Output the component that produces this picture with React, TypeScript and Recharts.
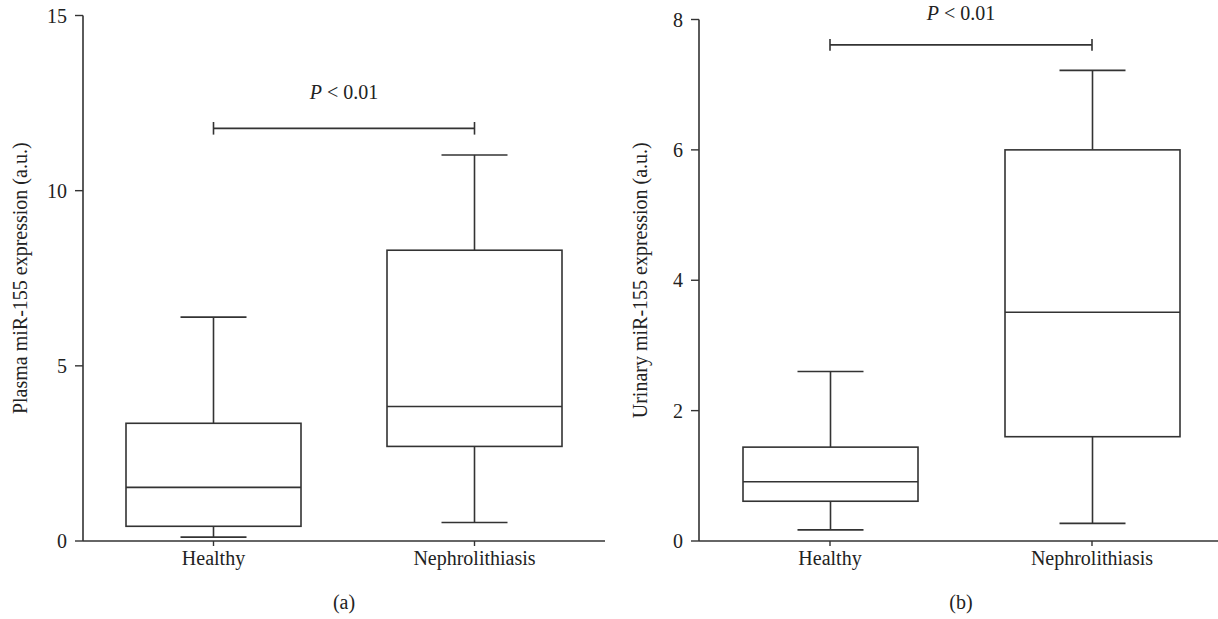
import { Bar, BarChart, ReferenceLine, XAxis, YAxis } from "recharts";

const groups = ["Healthy", "Nephrolithiasis"];

// (a) plasma miR-155
const plasmaMin = [0.11, 0.53];
const plasmaQ1 = [0.42, 2.7];
const plasmaMedian = [1.53, 3.84];
const plasmaQ3 = [3.36, 8.3];
const plasmaMax = [6.39, 11.02];
const plasmaTicks = [0, 5, 10, 15];
const plasmaBracket = 11.78;

// (b) urinary miR-155
const urinaryMin = [0.17, 0.27];
const urinaryQ1 = [0.61, 1.6];
const urinaryMedian = [0.91, 3.51];
const urinaryQ3 = [1.44, 6.0];
const urinaryMax = [2.6, 7.22];
const urinaryTicks = [0, 2, 4, 6, 8];
const urinaryBracket = 7.61;

const pValue = "< 0.01";

const FONT = "'Liberation Serif', 'Times New Roman', serif";
const FONT_SIZE = 20;
const INK = "#333";

type BoxRow = { name: string; range: [number, number]; q1: number; median: number; q3: number };

const buildRows = (mins: number[], q1s: number[], meds: number[], q3s: number[], maxs: number[]): BoxRow[] =>
  groups.map((name, i) => ({
    name,
    range: [mins[i], maxs[i]],
    q1: q1s[i],
    median: meds[i],
    q3: q3s[i],
  }));

const plasmaData = buildRows(plasmaMin, plasmaQ1, plasmaMedian, plasmaQ3, plasmaMax);
const urinaryData = buildRows(urinaryMin, urinaryQ1, urinaryMedian, urinaryQ3, urinaryMax);

// draws a whole box plot inside the bar that spans min..max
function BoxShape(props: any) {
  const { x, y, width, height, payload } = props;
  if (!payload) return null;
  const [lo, hi] = payload.range;
  const top = Math.min(y, y + height);
  const h = Math.abs(height);
  const toY = (v: number) => top + ((hi - v) / (hi - lo)) * h;
  const cx = x + width / 2;
  const cap = 33;
  const yMax = toY(hi);
  const yMin = toY(lo);
  const yQ1 = toY(payload.q1);
  const yQ3 = toY(payload.q3);
  const yMed = toY(payload.median);
  const line = { stroke: INK, strokeWidth: 1.6 };
  return (
    <g>
      <line x1={cx - cap} x2={cx + cap} y1={yMax} y2={yMax} {...line} />
      <line x1={cx} x2={cx} y1={yMax} y2={yQ3} {...line} />
      <rect x={x} y={yQ3} width={width} height={yQ1 - yQ3} fill="#fff" {...line} />
      <line x1={x} x2={x + width} y1={yMed} y2={yMed} {...line} />
      <line x1={cx} x2={cx} y1={yQ1} y2={yMin} {...line} />
      <line x1={cx - cap} x2={cx + cap} y1={yMin} y2={yMin} {...line} />
    </g>
  );
}

function PLabel({ viewBox, gap }: any) {
  if (!viewBox) return null;
  const cx = viewBox.x + viewBox.width / 2;
  return (
    <text x={cx} y={viewBox.y - gap} textAnchor="middle" fontFamily={FONT} fontSize={FONT_SIZE} fill="#222">
      <tspan fontStyle="italic">P</tspan> {pValue}
    </text>
  );
}

function BoxPanel({
  data,
  ticks,
  bracket,
  bracketTick,
  yLabel,
  caption,
  width,
  marginTop,
  marginRight,
  labelOffset,
  pGap,
}: {
  data: BoxRow[];
  ticks: number[];
  bracket: number;
  bracketTick: number;
  yLabel: string;
  caption: string;
  width: number;
  marginTop: number;
  marginRight: number;
  labelOffset: number;
  pGap: number;
}) {
  const tickStyle = { fill: "#222", fontSize: FONT_SIZE, fontFamily: FONT };
  const hi = ticks[ticks.length - 1];
  return (
    <BarChart
      width={width}
      height={619}
      data={data}
      margin={{ top: marginTop, right: marginRight, bottom: 8, left: 0 }}
      barSize={175}
    >
      <XAxis
        dataKey="name"
        height={70}
        tick={tickStyle}
        tickSize={5}
        tickMargin={5}
        axisLine={{ stroke: INK, strokeWidth: 1.6 }}
        tickLine={{ stroke: INK, strokeWidth: 1.4 }}
        label={{ value: caption, position: "insideBottom", offset: 2, style: { fill: "#222", fontSize: FONT_SIZE, fontFamily: FONT } }}
      />
      <YAxis
        type="number"
        domain={[0, hi]}
        ticks={ticks}
        width={83}
        tick={tickStyle}
        tickSize={8}
        tickMargin={8}
        axisLine={{ stroke: INK, strokeWidth: 1.6 }}
        tickLine={{ stroke: INK, strokeWidth: 1.4 }}
        label={{
          value: yLabel,
          angle: -90,
          position: "insideLeft",
          offset: labelOffset,
          style: { textAnchor: "middle", fill: "#222", fontSize: FONT_SIZE, fontFamily: FONT },
        }}
      />
      <Bar dataKey="range" shape={<BoxShape />} isAnimationActive={false} />
      <ReferenceLine
        segment={[
          { x: groups[0], y: bracket },
          { x: groups[1], y: bracket },
        ]}
        stroke={INK}
        strokeWidth={1.8}
        ifOverflow="visible"
        label={<PLabel gap={pGap} />}
      />
      {groups.map((g) => (
        <ReferenceLine
          key={g}
          segment={[
            { x: g, y: bracket - bracketTick },
            { x: g, y: bracket + bracketTick },
          ]}
          stroke={INK}
          strokeWidth={1.6}
          ifOverflow="visible"
        />
      ))}
    </BarChart>
  );
}

export default function App() {
  return (
    <div
      style={{
        position: "absolute",
        left: 0,
        top: 0,
        width: 1218,
        height: 619,
        overflow: "hidden",
        background: "#fff",
      }}
    >
      <div style={{ position: "absolute", left: 0, top: 0 }}>
        <BoxPanel
          data={plasmaData}
          ticks={plasmaTicks}
          bracket={plasmaBracket}
          bracketTick={0.18}
          yLabel="Plasma miR-155 expression (a.u.)"
          caption="(a)"
          width={615}
          marginTop={15.5}
          marginRight={10}
          labelOffset={20}
          pGap={29}
        />
      </div>
      <div style={{ position: "absolute", left: 616, top: 0 }}>
        <BoxPanel
          data={urinaryData}
          ticks={urinaryTicks}
          bracket={urinaryBracket}
          bracketTick={0.09}
          yLabel="Urinary miR-155 expression (a.u.)"
          caption="(b)"
          width={607}
          marginTop={19.5}
          marginRight={0}
          labelOffset={24}
          pGap={25}
        />
      </div>
    </div>
  );
}
